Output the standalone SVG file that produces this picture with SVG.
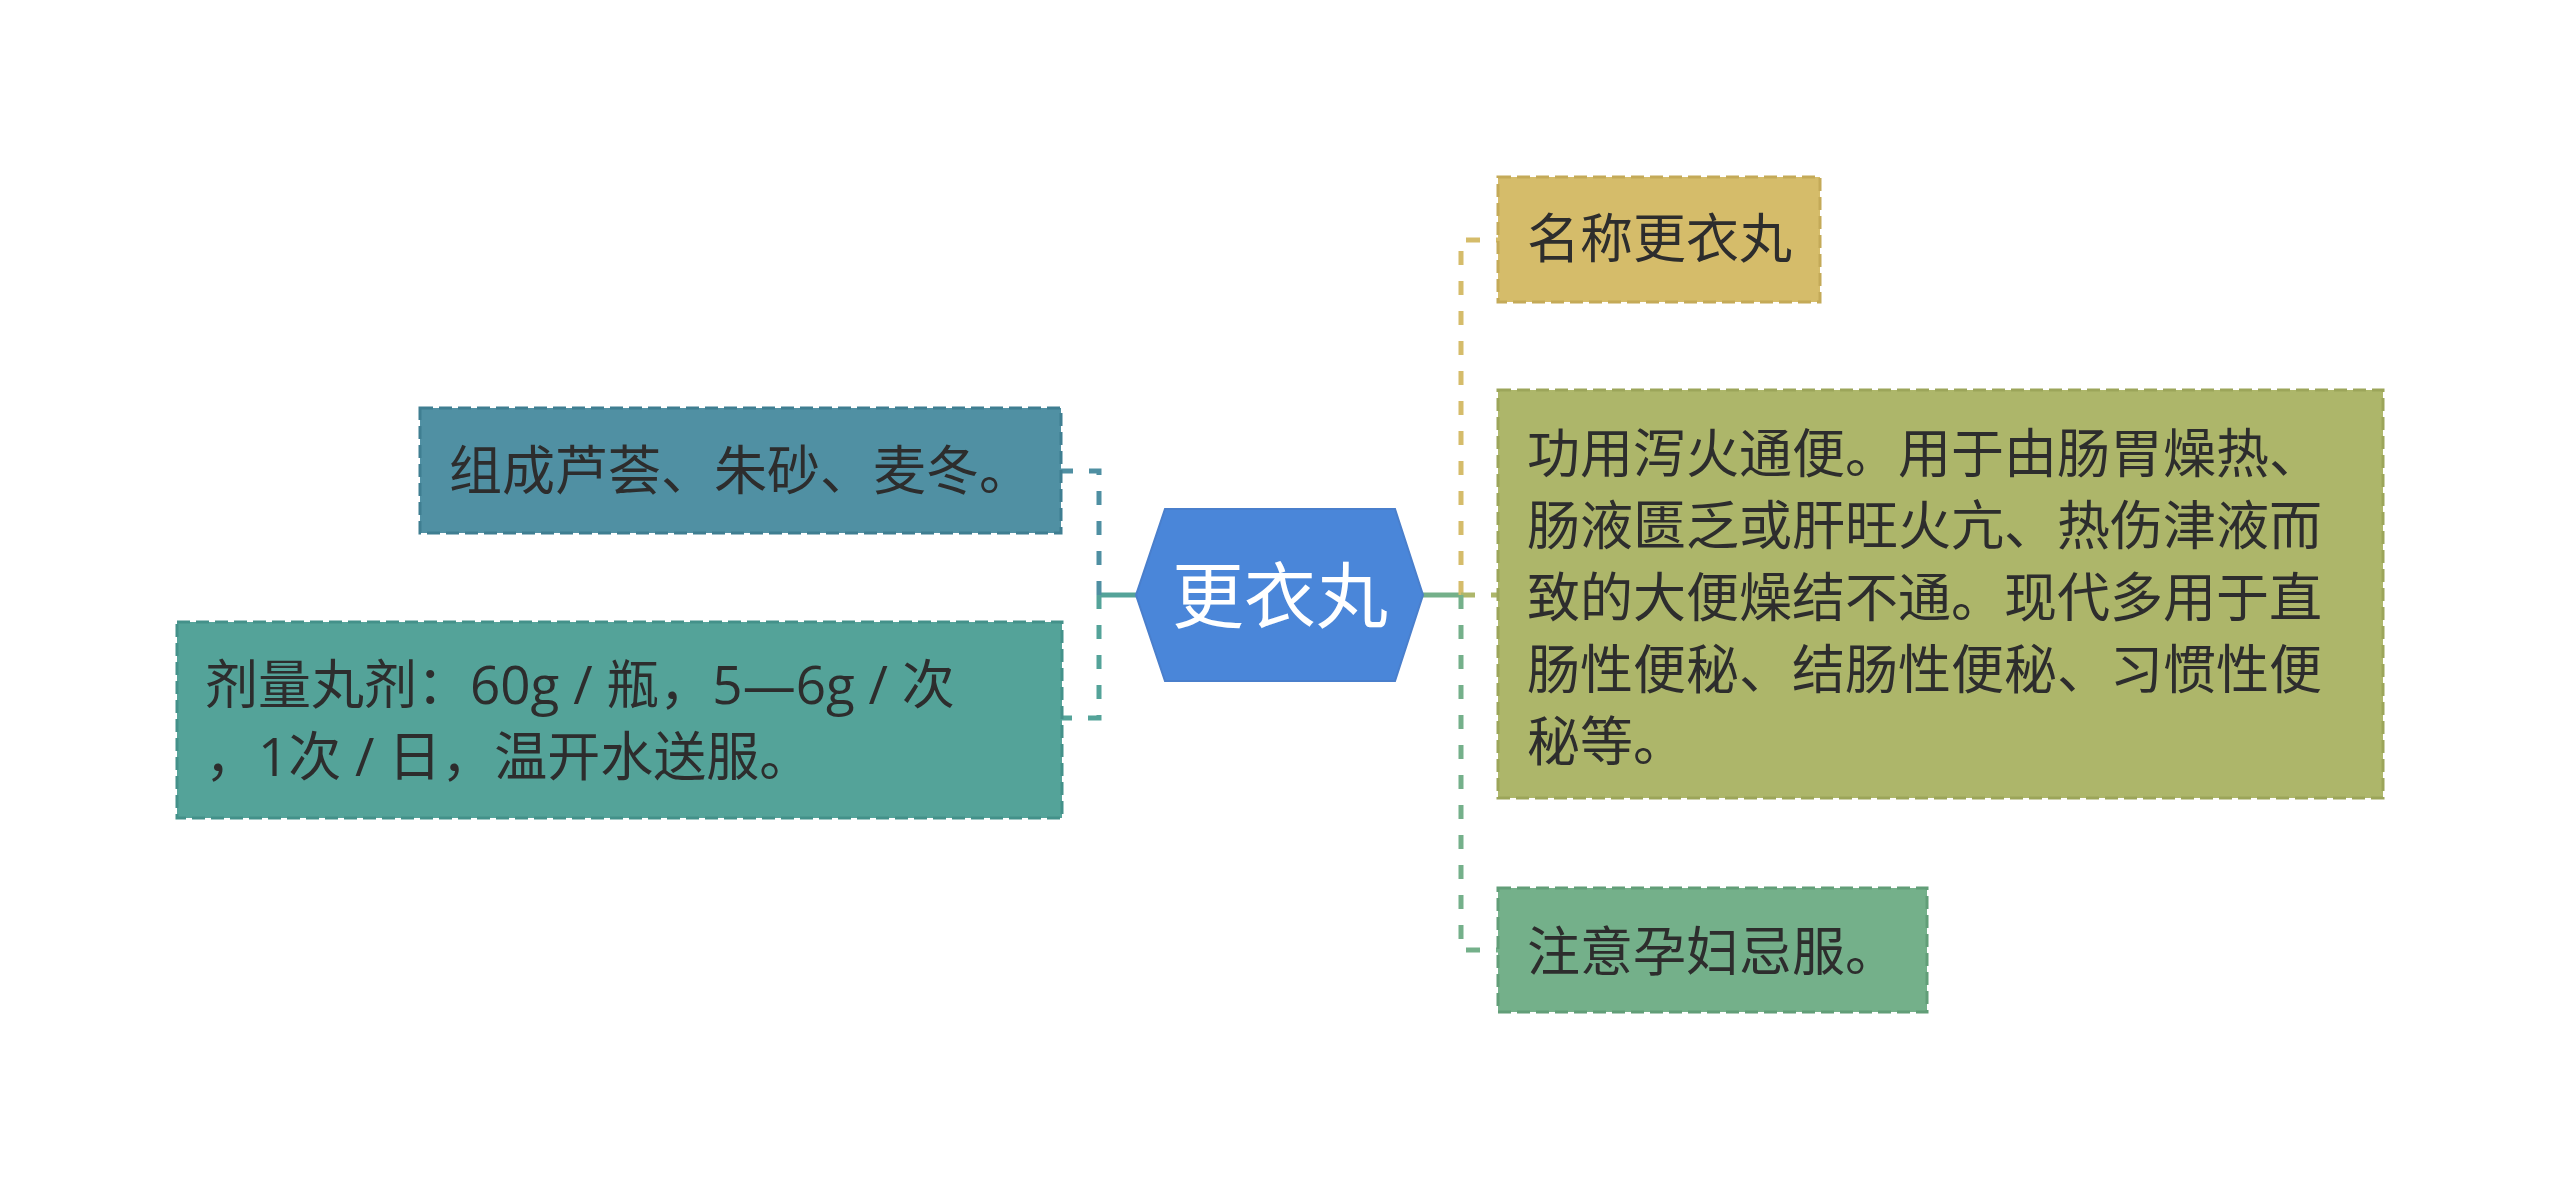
<svg xmlns="http://www.w3.org/2000/svg" width="2560" height="1191" viewBox="0 0 2560 1191">
<style>
.box{stroke-width:3;stroke-dasharray:13 6}
.t{font-family:"Noto Sans CJK SC","Noto Sans",sans-serif;font-size:53px;fill:#2d2d2d}
.tl{font-family:"Open Sans","Noto Sans CJK SC",sans-serif;font-size:53px;fill:#2d2d2d}
.ht{font-family:"Noto Sans CJK SC","Noto Sans",sans-serif;font-size:72px;fill:#ffffff}
.c{fill:none;stroke-width:5}
.d{stroke-dasharray:14 16}
</style>
<rect width="2560" height="1191" fill="#ffffff"/>
<g id="connectors">
<path class="c" d="M1136 595 H1099" stroke="#54a399"/>
<path class="c d" d="M1099 595 V471 H1061" stroke="#4f8fa2"/>
<path class="c d" d="M1099 595 V718 H1062" stroke="#54a399"/>
<path class="c" d="M1423 595 H1461" stroke="#74b08a"/>
<path class="c d" d="M1461 595 V240 H1498" stroke="#d5bc6a"/>
<path class="c d" d="M1461 595 H1498" stroke="#adb66a"/>
<path class="c d" d="M1461 595 V950 H1498" stroke="#74b08a"/>
</g>
<g id="center">
<polygon points="1136,595 1165,509 1395,509 1423,595 1395,681 1165,681" fill="#4a86d9" stroke="#4a7fcc" stroke-width="2"/>
<text class="ht" x="1280" y="622" text-anchor="middle">更衣丸</text>
</g>
<g id="n-zucheng">
<rect class="box" x="420" y="408" width="641" height="125" fill="#5090a3" stroke="#3f7e91"/>
<text class="t" x="449" y="490">组成芦荟、朱砂、麦冬。</text>
</g>
<g id="n-jiliang">
<rect class="box" x="177" y="622" width="885" height="196" fill="#54a399" stroke="#44918a"/>
<text class="tl" x="205" y="704">剂量丸剂：60g / 瓶，5—6g / 次</text>
<text class="tl" x="205" y="776">，1次 / 日，温开水送服。</text>
</g>
<g id="n-mingcheng">
<rect class="box" x="1498" y="177" width="322" height="125" fill="#d5bc6a" stroke="#c4aa58"/>
<text class="t" x="1527" y="258">名称更衣丸</text>
</g>
<g id="n-gongyong">
<rect class="box" x="1498" y="390" width="885" height="408" fill="#adb66a" stroke="#9ca55a"/>
<text class="t" x="1527" y="473">功用泻火通便。用于由肠胃燥热、</text>
<text class="t" x="1527" y="545">肠液匮乏或肝旺火亢、热伤津液而</text>
<text class="t" x="1527" y="617">致的大便燥结不通。现代多用于直</text>
<text class="t" x="1527" y="689">肠性便秘、结肠性便秘、习惯性便</text>
<text class="t" x="1527" y="761">秘等。</text>
</g>
<g id="n-zhuyi">
<rect class="box" x="1498" y="888" width="429" height="124" fill="#74b08a" stroke="#629e78"/>
<text class="t" x="1527" y="971">注意孕妇忌服。</text>
</g>
</svg>
